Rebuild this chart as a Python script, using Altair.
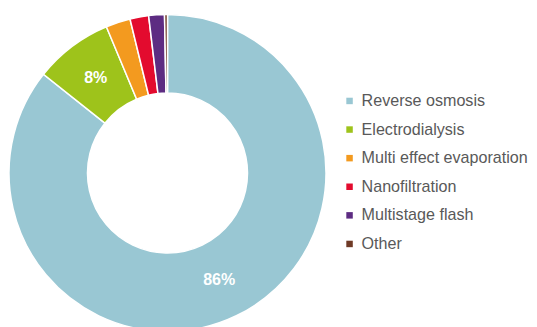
import altair as alt
import pandas as pd

categories = ["Reverse osmosis", "Electrodialysis", "Multi effect evaporation",
              "Nanofiltration", "Multistage flash", "Other"]
values = [85.7, 8.0, 2.5, 1.9, 1.6, 0.3]
labels = ["86%", "8%", "", "", "", ""]
colors = ["#99C7D3", "#9EC31B", "#F39A1F", "#E30B2E", "#5D2C82", "#6F3A26"]

df = pd.DataFrame({"category": categories, "value": values, "label": labels,
                   "order": list(range(len(categories)))})

cx, cy = 159.5, 165
base = alt.Chart(df).encode(
    theta=alt.Theta("value:Q", stack=True),
    order=alt.Order("order:Q"),
    x=alt.value(cx), y=alt.value(cy),
)

arcs = base.mark_arc(radius=158.5, radius2=80, stroke="white", strokeWidth=1.5).encode(
    color=alt.Color("category:N", sort=categories,
                    scale=alt.Scale(domain=categories, range=colors),
                    legend=alt.Legend(title=None, orient="none", legendX=333.5, legendY=84.9,
                                      symbolType="square", symbolSize=42,
                                      symbolStrokeWidth=0, padding=0,
                                      labelFontSize=16.1, labelFont="Liberation Sans",
                                      labelColor="#595959", rowPadding=11.6,
                                      labelOffset=4, labelLimit=300))
)

text = base.mark_text(radius=119, font="Liberation Sans", fontSize=16,
                      fontWeight="bold", color="white").encode(text="label:N")

chart = alt.layer(arcs, text).properties(
    width=521, height=319, autosize=alt.AutoSizeParams(type="none"), padding=0
).configure_view(stroke=None)

chart.save("out.html", embed_options={"renderer": "svg", "actions": False})
